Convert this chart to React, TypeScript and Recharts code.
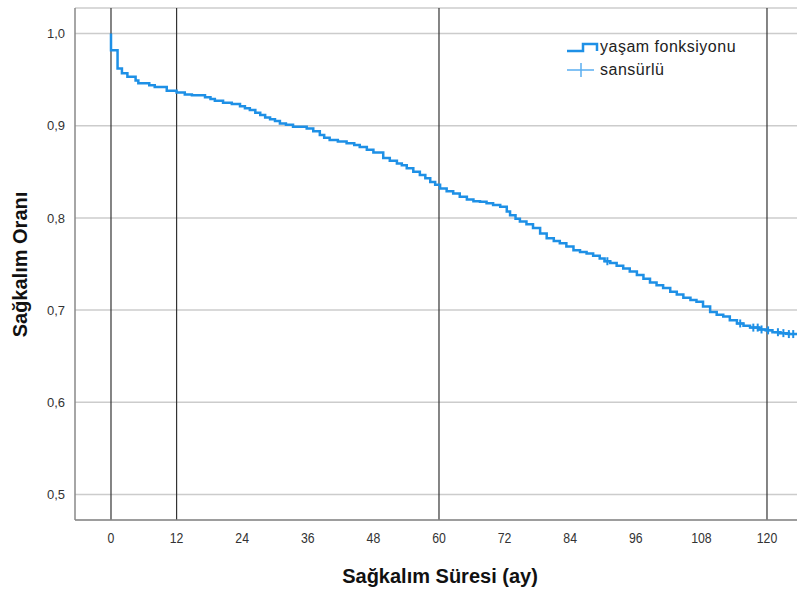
import React from 'react';
import {
  ComposedChart,
  Line,
  Scatter,
  XAxis,
  YAxis,
  CartesianGrid,
  ReferenceLine,
} from 'recharts';

// step times (months) and survival proportion after each step
const stepTimes = [
  0, 0, 1.2, 2.0, 3.0, 4.5, 5.0, 7.0, 8.0, 10.2, 12.0, 13.5, 14.8, 17.2, 18.2, 19.0,
  20.5, 22.1, 23.6, 24.5, 25.4, 26.4, 27.3, 28.2, 29.1, 30.0, 30.9, 32.0, 33.3, 35.8,
  37.0, 38.2, 39.0, 40.0, 41.5, 43.1, 44.5, 45.5, 46.8, 48.0, 49.8, 51.0, 52.3, 53.2,
  54.1, 55.3, 56.5, 57.5, 58.4, 59.3, 60.2, 61.4, 62.6, 63.8, 65.1, 66.3, 67.5, 68.7,
  69.9, 71.2, 72.4, 73.0, 74.0, 74.8, 76.0, 77.2, 78.5, 79.7, 81.0, 82.1, 83.3, 84.6,
  85.8, 87.0, 88.2, 89.4, 90.3, 91.3, 92.5, 93.7, 94.9, 96.2, 97.4, 98.6, 99.8, 101.0,
  102.3, 103.5, 104.7, 106.0, 107.1, 108.3, 109.6, 110.8, 112.0, 113.2, 114.5, 115.7,
  116.9, 118.5, 119.9, 121.0, 122.4, 124.0, 125.5,
];
const stepSurvival = [
  1.0, 0.982, 0.962, 0.957, 0.953, 0.949, 0.946, 0.944, 0.942, 0.938, 0.936, 0.934, 0.933,
  0.931, 0.929, 0.927, 0.925, 0.9235, 0.921, 0.919, 0.917, 0.914, 0.9115, 0.909, 0.907,
  0.905, 0.9025, 0.901, 0.899, 0.897, 0.894, 0.89, 0.887, 0.8845, 0.883, 0.881, 0.879,
  0.877, 0.874, 0.871, 0.865, 0.862, 0.859, 0.857, 0.854, 0.85, 0.8465, 0.843, 0.839,
  0.836, 0.832, 0.829, 0.8265, 0.823, 0.82, 0.818, 0.8175, 0.816, 0.814, 0.812, 0.807,
  0.803, 0.799, 0.796, 0.793, 0.789, 0.783, 0.778, 0.775, 0.7725, 0.769, 0.765, 0.763,
  0.7615, 0.759, 0.756, 0.753, 0.751, 0.748, 0.745, 0.742, 0.738, 0.734, 0.73, 0.727,
  0.724, 0.72, 0.717, 0.7135, 0.711, 0.709, 0.704, 0.698, 0.695, 0.693, 0.689, 0.6855,
  0.683, 0.681, 0.679, 0.678, 0.676, 0.675, 0.674, 0.674,
];
const censoredTimes = [90.8, 115.1, 117.5, 118.3, 119.0, 120.2, 122.0, 123.0, 124.0, 124.8];

const xTicks = [0, 12, 24, 36, 48, 60, 72, 84, 96, 108, 120];
const yTicks = [0.5, 0.6, 0.7, 0.8, 0.9, 1.0];
const referenceMonths = [0, 12, 60, 120];

const BLUE = '#1e90e6';
const LIGHT_BLUE = '#5aaef0';
const FONT = '"Liberation Sans", Arial, sans-serif';

if (typeof document !== 'undefined') document.body.style.margin = '0';

const survivalAt = (t: number) => {
  let s = stepSurvival[0];
  stepTimes.forEach((st, i) => {
    if (st <= t) s = stepSurvival[i];
  });
  return s;
};

const curveData = stepTimes.map((t, i) => ({ time: t, surv: stepSurvival[i] }));
const censorData = censoredTimes.map((t) => ({ time: t, surv: survivalAt(t) }));

const PlusMark = (props: any) => {
  const { cx, cy } = props;
  if (cx == null || cy == null) return null;
  return (
    <g>
      <line x1={cx - 4} x2={cx + 4} y1={cy} y2={cy} stroke={BLUE} strokeWidth={2} />
      <line x1={cx} x2={cx} y1={cy - 4} y2={cy + 4} stroke={BLUE} strokeWidth={2} />
    </g>
  );
};

// narrow-looking x tick labels like the SPSS output
const XTick = (props: any) => {
  const { x, y, payload } = props;
  return (
    <g transform={`translate(${x},${y}) scale(0.82,1)`}>
      <text x={0} y={0} dy={12} textAnchor="middle" fontSize={15} fill="#333" fontFamily={FONT}>
        {payload.value}
      </text>
    </g>
  );
};

const fmt = (v: number) => v.toFixed(1).replace('.', ',');

export default function App() {
  return (
    <div style={{ position: 'relative', width: 797, height: 590, background: '#fff' }}>
      <ComposedChart
        width={797}
        height={590}
        margin={{ top: 8, right: 0, bottom: 0, left: 0 }}
      >
        <CartesianGrid vertical={false} stroke="#cccccc" strokeWidth={1.5} />
        <XAxis
          type="number"
          dataKey="time"
          domain={[-6.585, 125.49]}
          ticks={xTicks}
          allowDataOverflow
          height={70}
          tickLine={false}
          tickSize={6}
          tickMargin={5}
          axisLine={{ stroke: '#888888', strokeWidth: 1.5 }}
          tick={<XTick />}
        />
        <YAxis
          type="number"
          dataKey="surv"
          domain={[0.4723, 1.0277]}
          ticks={yTicks}
          allowDataOverflow
          width={75}
          tickLine={false}
          tickSize={6}
          tickMargin={4}
          tickFormatter={fmt}
          axisLine={{ stroke: '#888888', strokeWidth: 1.5 }}
          tick={{ fontSize: 13, fill: '#333', fontFamily: FONT }}
        />
        {referenceMonths.map((m) => (
          <ReferenceLine key={m} x={m} stroke="#333" strokeWidth={1.2} />
        ))}
        <Line
          data={curveData}
          dataKey="surv"
          type="stepAfter"
          stroke={BLUE}
          strokeWidth={2.5}
          dot={false}
          isAnimationActive={false}
        />
        <Scatter data={censorData} dataKey="surv" shape={<PlusMark />} isAnimationActive={false} />
      </ComposedChart>

      <div
        style={{
          position: 'absolute',
          left: 1,
          top: 8,
          width: 40,
          height: 512,
          display: 'flex',
          alignItems: 'center',
          justifyContent: 'center',
        }}
      >
        <div
          style={{
            transform: 'rotate(-90deg)',
            whiteSpace: 'nowrap',
            fontFamily: FONT,
            fontWeight: 'bold',
            fontSize: 20,
            color: '#111',
          }}
        >
          Sağkalım Oranı
        </div>
      </div>

      <div
        style={{
          position: 'absolute',
          left: 79,
          width: 722,
          top: 565,
          textAlign: 'center',
          fontFamily: FONT,
          fontWeight: 'bold',
          fontSize: 20,
          color: '#111',
        }}
      >
        Sağkalım Süresi (ay)
      </div>

      <div
        style={{
          position: 'absolute',
          left: 566,
          top: 35,
          fontFamily: FONT,
          fontSize: 16,
          letterSpacing: 0.5,
          color: '#222',
          lineHeight: '23px',
        }}
      >
        <div style={{ display: 'flex', alignItems: 'center' }}>
          <svg width={34} height={14}>
            <polyline points="1,11 17,11 17,4 31,4 31,11" fill="none" stroke={BLUE} strokeWidth={2.5} />
          </svg>
          <span>yaşam fonksiyonu</span>
        </div>
        <div style={{ display: 'flex', alignItems: 'center' }}>
          <svg width={34} height={16}>
            <line x1={1} x2={28} y1={8} y2={8} stroke={LIGHT_BLUE} strokeWidth={1.5} />
            <line x1={15} x2={15} y1={1} y2={15} stroke={LIGHT_BLUE} strokeWidth={1.5} />
          </svg>
          <span>sansürlü</span>
        </div>
      </div>
    </div>
  );
}
